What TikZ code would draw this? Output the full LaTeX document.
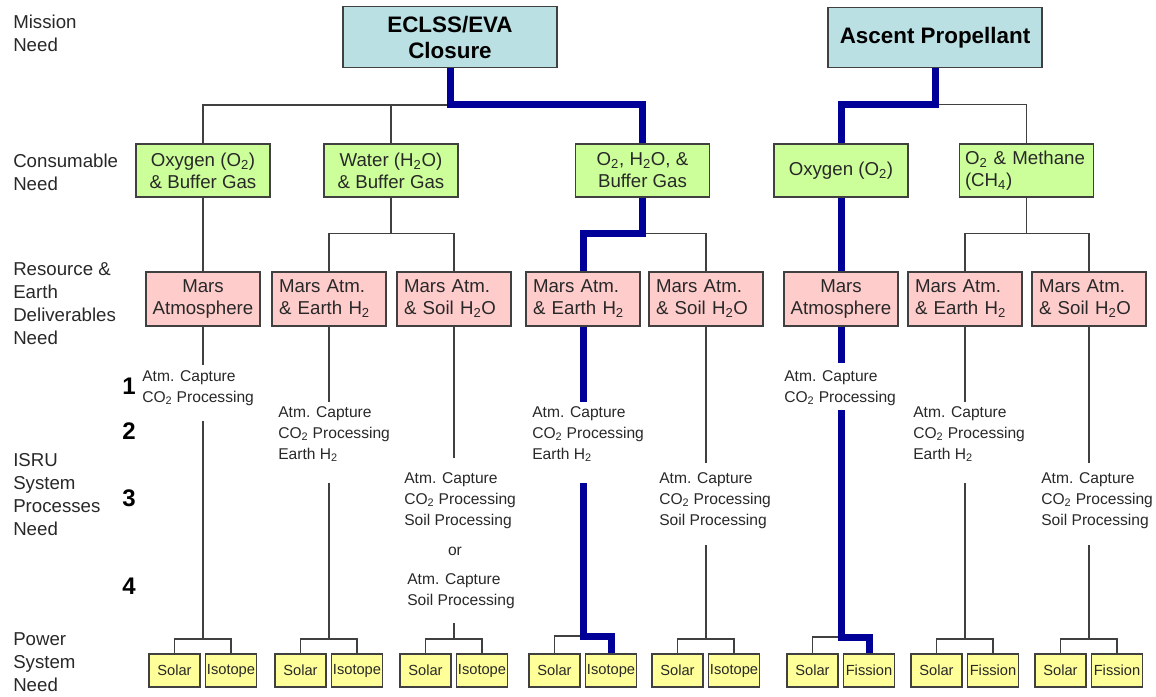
\documentclass[tikz,border=0pt]{standalone}
\usepackage{fontspec}
\setmainfont{Liberation Sans}
\usetikzlibrary{calc}

\definecolor{missionfill}{RGB}{187,224,228}
\definecolor{consumfill}{RGB}{204,255,153}
\definecolor{resfill}{RGB}{255,204,204}
\definecolor{powerfill}{RGB}{255,255,153}
\definecolor{pathblue}{RGB}{0,0,153}
\definecolor{edgegray}{RGB}{64,64,64}
\definecolor{ink}{RGB}{40,40,40}

\begin{document}
\begin{tikzpicture}[x=0.75pt,y=-0.75pt,
  every node/.style={text=ink},
  boxbase/.style={draw=edgegray, line width=0.9pt, inner sep=0pt},
  missionbox/.style={boxbase, fill=missionfill, minimum width=160.5pt, minimum height=45.5pt,
    align=center, text=black, font=\fontsize{16.8pt}{19.5pt}\selectfont\bfseries},
  needbox/.style={boxbase, fill=consumfill, minimum width=100.5pt, minimum height=39.75pt,
    align=center, font=\fontsize{14pt}{16.5pt}\selectfont},
  needboxL/.style={needbox, text width=92.25pt, align=left},
  resbox/.style={boxbase, fill=resfill, minimum width=85.5pt, minimum height=40.5pt,
    align=center, font=\fontsize{14pt}{16.5pt}\selectfont},
  resboxL/.style={resbox, text width=75pt, align=left},
  powbox/.style={boxbase, fill=powerfill, minimum width=38.25pt, minimum height=24.75pt,
    font=\fontsize{11pt}{13pt}\selectfont},
  rowlabel/.style={anchor=north west, inner sep=0pt, align=left,
    font=\fontsize{14pt}{17.25pt}\selectfont},
  proc/.style={anchor=north west, inner sep=0pt, align=left,
    font=\fontsize{11.7pt}{15.75pt}\selectfont},
  stepnum/.style={inner sep=0pt, text=black, font=\fontsize{18pt}{20pt}\selectfont\bfseries},
  conn/.style={draw=edgegray, line width=0.9pt},
  critical/.style={draw=pathblue, line width=5.25pt, line join=miter},
]
\useasboundingbox (0,0) rectangle (1156,696);

% ---------- row labels ----------
\node[rowlabel] (lmission) at (13,15) {Mission\\Need};
\node[rowlabel] (lconsum) at (13,154) {Consumable\\Need};
\node[rowlabel] (lres) at (13,262) {Resource \&\\Earth\\Deliverables\\Need};
\node[rowlabel] (lisru) at (13,453) {ISRU\\System\\Processes\\Need};
\node[rowlabel] (lpower) at (13,632) {Power\\System\\Need};

\node[stepnum] (n1) at (129,386) {1};
\node[stepnum] (n2) at (129,431) {2};
\node[stepnum] (n3) at (129,498) {3};
\node[stepnum] (n4) at (129,586) {4};

% ---------- mission needs ----------
\node[missionbox] (eclss) at (450,37) {ECLSS/EVA\\Closure};
\node[missionbox] (ascent) at (935,37.5) {Ascent Propellant};

% ---------- consumables ----------
\node[needbox] (g1) at (203,170.5) {Oxygen (O\textsubscript{2})\\\& Buffer Gas};
\node[needbox] (g2) at (391,170.5) {Water (H\textsubscript{2}O)\\\& Buffer Gas};
\node[needbox] (g3) at (642.5,170.5) {O\textsubscript{2}, H\textsubscript{2}O, \&\\Buffer Gas};
\node[needbox] (g4) at (841,170.5) {Oxygen (O\textsubscript{2})};
\node[needboxL] (g5) at (1026.5,170.5) {O\textsubscript{2} \& Methane\\(CH\textsubscript{4})};

% ---------- resources ----------
\node[resbox]  (b1) at (203,299) {Mars\\Atmosphere};
\node[resboxL] (b2) at (329,299) {Mars Atm.\\\& Earth H\textsubscript{2}};
\node[resboxL] (b3) at (454,299) {Mars Atm.\\\& Soil H\textsubscript{2}O};
\node[resboxL] (b4) at (583,299) {Mars Atm.\\\& Earth H\textsubscript{2}};
\node[resboxL] (b5) at (706,299) {Mars Atm.\\\& Soil H\textsubscript{2}O};
\node[resbox]  (b6) at (841,299) {Mars\\Atmosphere};
\node[resboxL] (b7) at (965,299) {Mars Atm.\\\& Earth H\textsubscript{2}};
\node[resboxL] (b8) at (1089,299) {Mars Atm.\\\& Soil H\textsubscript{2}O};

% ---------- ISRU processes ----------
\node[proc] (p1) at (142,370) {Atm. Capture\\CO\textsubscript{2} Processing};
\node[proc] (p2) at (278,406) {Atm. Capture\\CO\textsubscript{2} Processing\\Earth H\textsubscript{2}};
\node[proc] (p3) at (404,472) {Atm. Capture\\CO\textsubscript{2} Processing\\Soil Processing};
\node[proc, anchor=center] (p3or) at (455,551) {or};
\node[proc] (p3b) at (407,573) {Atm. Capture\\Soil Processing};
\node[proc] (p4) at (532,406) {Atm. Capture\\CO\textsubscript{2} Processing\\Earth H\textsubscript{2}};
\node[proc] (p5) at (659,472) {Atm. Capture\\CO\textsubscript{2} Processing\\Soil Processing};
\node[proc] (p6) at (784,370) {Atm. Capture\\CO\textsubscript{2} Processing};
\node[proc] (p7) at (913,406) {Atm. Capture\\CO\textsubscript{2} Processing\\Earth H\textsubscript{2}};
\node[proc] (p8) at (1041,472) {Atm. Capture\\CO\textsubscript{2} Processing\\Soil Processing};

% ---------- power systems ----------
\foreach \i/\c/\alt in {1/203/Isotope, 2/329/Isotope, 3/454/Isotope, 4/583/Isotope,
                        5/706/Isotope, 6/841/Fission, 7/965/Fission, 8/1089/Fission} {
  \node[powbox] (s\i) at (\c-28.5,670.5) {Solar};
  \node[powbox] (i\i) at (\c+28,670.5) {\alt};
}

% ---------- line break points around the process texts ----------
\coordinate (t1) at (203,365);  \coordinate (u1) at (203,421);  \coordinate (k1) at (203,639);
\coordinate (t2) at (329,402);  \coordinate (u2) at (329,483);  \coordinate (k2) at (329,639);
\coordinate (t3) at (454,458);  \coordinate (u3) at (454,623);  \coordinate (k3) at (454,639);
\coordinate (t4) at (583,402);  \coordinate (u4) at (583,483);  \coordinate (k4) at (583,636);
\coordinate (t5) at (706,463);  \coordinate (u5) at (706,545);  \coordinate (k5) at (706,639);
\coordinate (t6) at (841,363);  \coordinate (u6) at (841,410);  \coordinate (k6) at (841,637);
\coordinate (t7) at (965,402);  \coordinate (u7) at (965,483);  \coordinate (k7) at (965,639);
\coordinate (t8) at (1089,463); \coordinate (u8) at (1089,545); \coordinate (k8) at (1089,639);

% ---------- mission -> consumables ----------
\coordinate (e1) at ($(eclss.south)+(0,37)$);
\coordinate (a1) at ($(ascent.south)+(0,36)$);
\draw[conn] (g1.north) |- (e1);
\draw[conn] (g2.north) -- (g2.north |- e1);
\draw[conn] (a1) -| (g5.north);

% ---------- consumables -> resources ----------
\coordinate (w2) at ($(g2.south)+(0,36)$);
\coordinate (w3) at ($(g3.south)+(0,36)$);
\coordinate (w5) at ($(g5.south)+(0,36)$);
\draw[conn] (g1.south) -- (g1.south |- b1.north);
\draw[conn] (g2.south) -- (w2);
\draw[conn] (b2.north) |- (w2) -| (b3.north);
\draw[conn] (w3) -| (b5.north);
\draw[conn] (g5.south) -- (w5);
\draw[conn] (b7.north) |- (w5) -| (b8.north);

% ---------- resources -> processes -> power ----------
\foreach \i in {1,2,3,5,7,8} {
  \draw[conn] (b\i.south) -- (t\i);
  \draw[conn] (u\i) -- (k\i);
  \draw[conn] (s\i.north) |- (k\i) -| (i\i.north);
}
\draw[conn] (s4.north) |- (k4);
\draw[conn] (s6.north) |- (k6);

% ---------- highlighted architecture paths ----------
\draw[critical] (eclss.south) -- (e1) -| (g3.north);
\draw[critical] (g3.south) -- (w3) -| (b4.north);
\draw[critical] (b4.south) -- (t4);
\draw[critical] (u4) -- (k4) -| (i4.north);

\draw[critical] (ascent.south) -- (a1) -| (g4.north);
\draw[critical] (g4.south) -- (b6.north);
\draw[critical] (b6.south) -- (t6);
\draw[critical] (u6) -- (k6) -| (i6.north);
\end{tikzpicture}
\end{document}
